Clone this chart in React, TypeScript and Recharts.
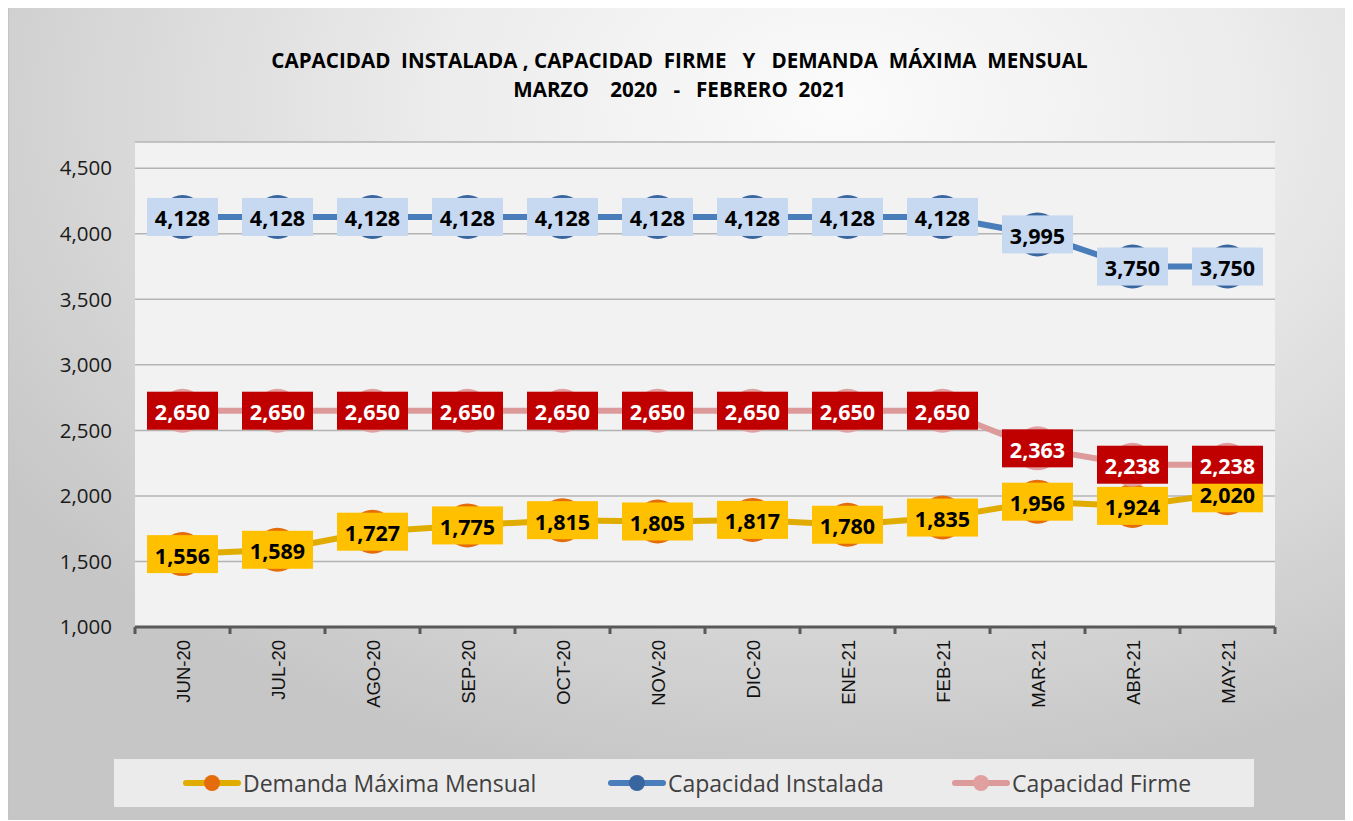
import { LineChart, Line, XAxis, YAxis, CartesianGrid } from 'recharts';

// Months and values
const months = ['JUN-20', 'JUL-20', 'AGO-20', 'SEP-20', 'OCT-20', 'NOV-20', 'DIC-20', 'ENE-21', 'FEB-21', 'MAR-21', 'ABR-21', 'MAY-21'];
const demandaMaxima = [1556, 1589, 1727, 1775, 1815, 1805, 1817, 1780, 1835, 1956, 1924, 2020];
const capacidadInstalada = [4128, 4128, 4128, 4128, 4128, 4128, 4128, 4128, 4128, 3995, 3750, 3750];
const capacidadFirme = [2650, 2650, 2650, 2650, 2650, 2650, 2650, 2650, 2650, 2363, 2238, 2238];
const yTicks = [1000, 1500, 2000, 2500, 3000, 3500, 4000, 4500];

const chartData = months.map((month, i) => ({
  month,
  demanda: demandaMaxima[i],
  instalada: capacidadInstalada[i],
  firme: capacidadFirme[i],
}));

const W = 1343;
const H = 814;
const PLOT_LEFT = 127;
const PLOT_RIGHT = 76;
const PLOT_W = W - PLOT_LEFT - PLOT_RIGHT;
const HALF_STEP = PLOT_W / months.length / 2;
const FONT = '"Open Sans", "Noto Sans", sans-serif';

const fmt = (v: number) => v.toLocaleString('en-US');

const makeLabel = (bg: string, color: string) => (props: any) => {
  const { x, y, value } = props;
  if (x == null || y == null) return null;
  return (
    <g>
      <rect x={x - 35.5} y={y - 19} width={71} height={38} fill={bg} />
      <text
        x={x}
        y={y + 1}
        textAnchor="middle"
        dominantBaseline="central"
        fontFamily={FONT}
        fontWeight={700}
        fontSize={21.5}
        fill={color}
      >
        {fmt(value)}
      </text>
    </g>
  );
};

const MonthTick = (props: any) => {
  const { x, y, payload, index } = props;
  const last = index === months.length - 1;
  return (
    <g>
      <line x1={x - HALF_STEP} x2={x - HALF_STEP} y1={y} y2={y + 7} stroke="#595959" strokeWidth={3} />
      {last && <line x1={x + HALF_STEP} x2={x + HALF_STEP} y1={y} y2={y + 7} stroke="#595959" strokeWidth={3} />}
      <text
        transform={`translate(${x + 1},${y + 13}) rotate(-90)`}
        textAnchor="end"
        dominantBaseline="central"
        fontFamily='"Liberation Sans", Arial, sans-serif'
        fontSize={18.5}
        fill="#111"
      >
        {payload.value}
      </text>
    </g>
  );
};

const legendItems = [
  { name: 'Demanda Máxima Mensual', line: '#e0ac00', dot: '#e46c0a', left: 175 },
  { name: 'Capacidad Instalada', line: '#4a7ebb', dot: '#3a66a0', left: 600 },
  { name: 'Capacidad Firme', line: '#dc9a9a', dot: '#e0a0a0', left: 944 },
];

export default function App() {
  return (
    <div
      style={{
        position: 'relative',
        width: W,
        height: H,
        marginTop: -2,
        boxShadow: 'inset 0 0 0 1px #c4c4c4',
        background:
          'radial-gradient(ellipse 75% 85% at 62% 12%, #fbfbfb 0%, #ececec 40%, #d6d6d6 75%, #c6c6c6 100%)',
      }}
    >
      <div
        style={{
          position: 'absolute',
          top: 40,
          left: 0,
          width: W,
          textAlign: 'center',
          fontFamily: FONT,
          fontWeight: 700,
          fontSize: 20.6,
          lineHeight: '29px',
          whiteSpace: 'pre',
          color: '#000',
        }}
      >
        <div>{'CAPACIDAD  INSTALADA , CAPACIDAD  FIRME   Y   DEMANDA  MÁXIMA  MENSUAL'}</div>
        <div>{'MARZO    2020   -   FEBRERO  2021'}</div>
      </div>

      <LineChart
        width={W}
        height={H}
        data={chartData}
        margin={{ top: 136, right: PLOT_RIGHT, bottom: 93, left: 0 }}
        style={{ position: 'absolute', top: 0, left: 0 }}
      >
        <CartesianGrid vertical={false} fill="#f2f2f2" stroke="#b4b4b4" strokeWidth={1.5} />
        <XAxis
          dataKey="month"
          height={100}
          padding={{ left: HALF_STEP, right: HALF_STEP }}
          axisLine={{ stroke: '#595959', strokeWidth: 3 }}
          tickLine={false}
          tickSize={0}
          tickMargin={0}
          interval={0}
          tick={<MonthTick />}
        />
        <YAxis
          width={PLOT_LEFT}
          domain={[1000, 4700]}
          ticks={yTicks}
          allowDataOverflow
          axisLine={false}
          tickLine={false}
          tickSize={0}
          tickMargin={23}
          tickFormatter={fmt}
          tick={{ fontFamily: FONT, fontSize: 20.5, fill: '#1a1a1a' }}
        />
        <Line
          dataKey="demanda"
          name="Demanda Máxima Mensual"
          stroke="#e0ac00"
          strokeWidth={6}
          dot={{ r: 22, fill: '#e46c0a', stroke: '#e46c0a', strokeWidth: 0 }}
          label={makeLabel('#ffc000', '#000')}
          isAnimationActive={false}
        />
        <Line
          dataKey="instalada"
          name="Capacidad Instalada"
          stroke="#4a7ebb"
          strokeWidth={6}
          dot={{ r: 22, fill: '#3a66a0', stroke: '#3a66a0', strokeWidth: 0 }}
          label={makeLabel('#c6d9f0', '#000')}
          isAnimationActive={false}
        />
        <Line
          dataKey="firme"
          name="Capacidad Firme"
          stroke="#dc9a9a"
          strokeWidth={6}
          dot={{ r: 22, fill: '#e0a0a0', stroke: '#e0a0a0', strokeWidth: 0 }}
          label={makeLabel('#c00000', '#fff')}
          isAnimationActive={false}
        />
      </LineChart>

      <div
        style={{
          position: 'absolute',
          left: 106,
          top: 753,
          width: 1140,
          height: 48,
          background: '#ebebeb',
        }}
      >
        {legendItems.map((item) => (
          <div
            key={item.name}
            style={{
              position: 'absolute',
              left: item.left - 106,
              top: 0,
              height: 48,
              display: 'flex',
              alignItems: 'center',
            }}
          >
            <svg width={58} height={20} style={{ display: 'block' }}>
              <line x1={3} x2={55} y1={10} y2={10} stroke={item.line} strokeWidth={6} strokeLinecap="round" />
              <circle cx={29} cy={10} r={8} fill={item.dot} />
            </svg>
            <span style={{ fontFamily: FONT, fontSize: 23, color: '#404040', marginLeft: 2 }}>{item.name}</span>
          </div>
        ))}
      </div>
    </div>
  );
}
